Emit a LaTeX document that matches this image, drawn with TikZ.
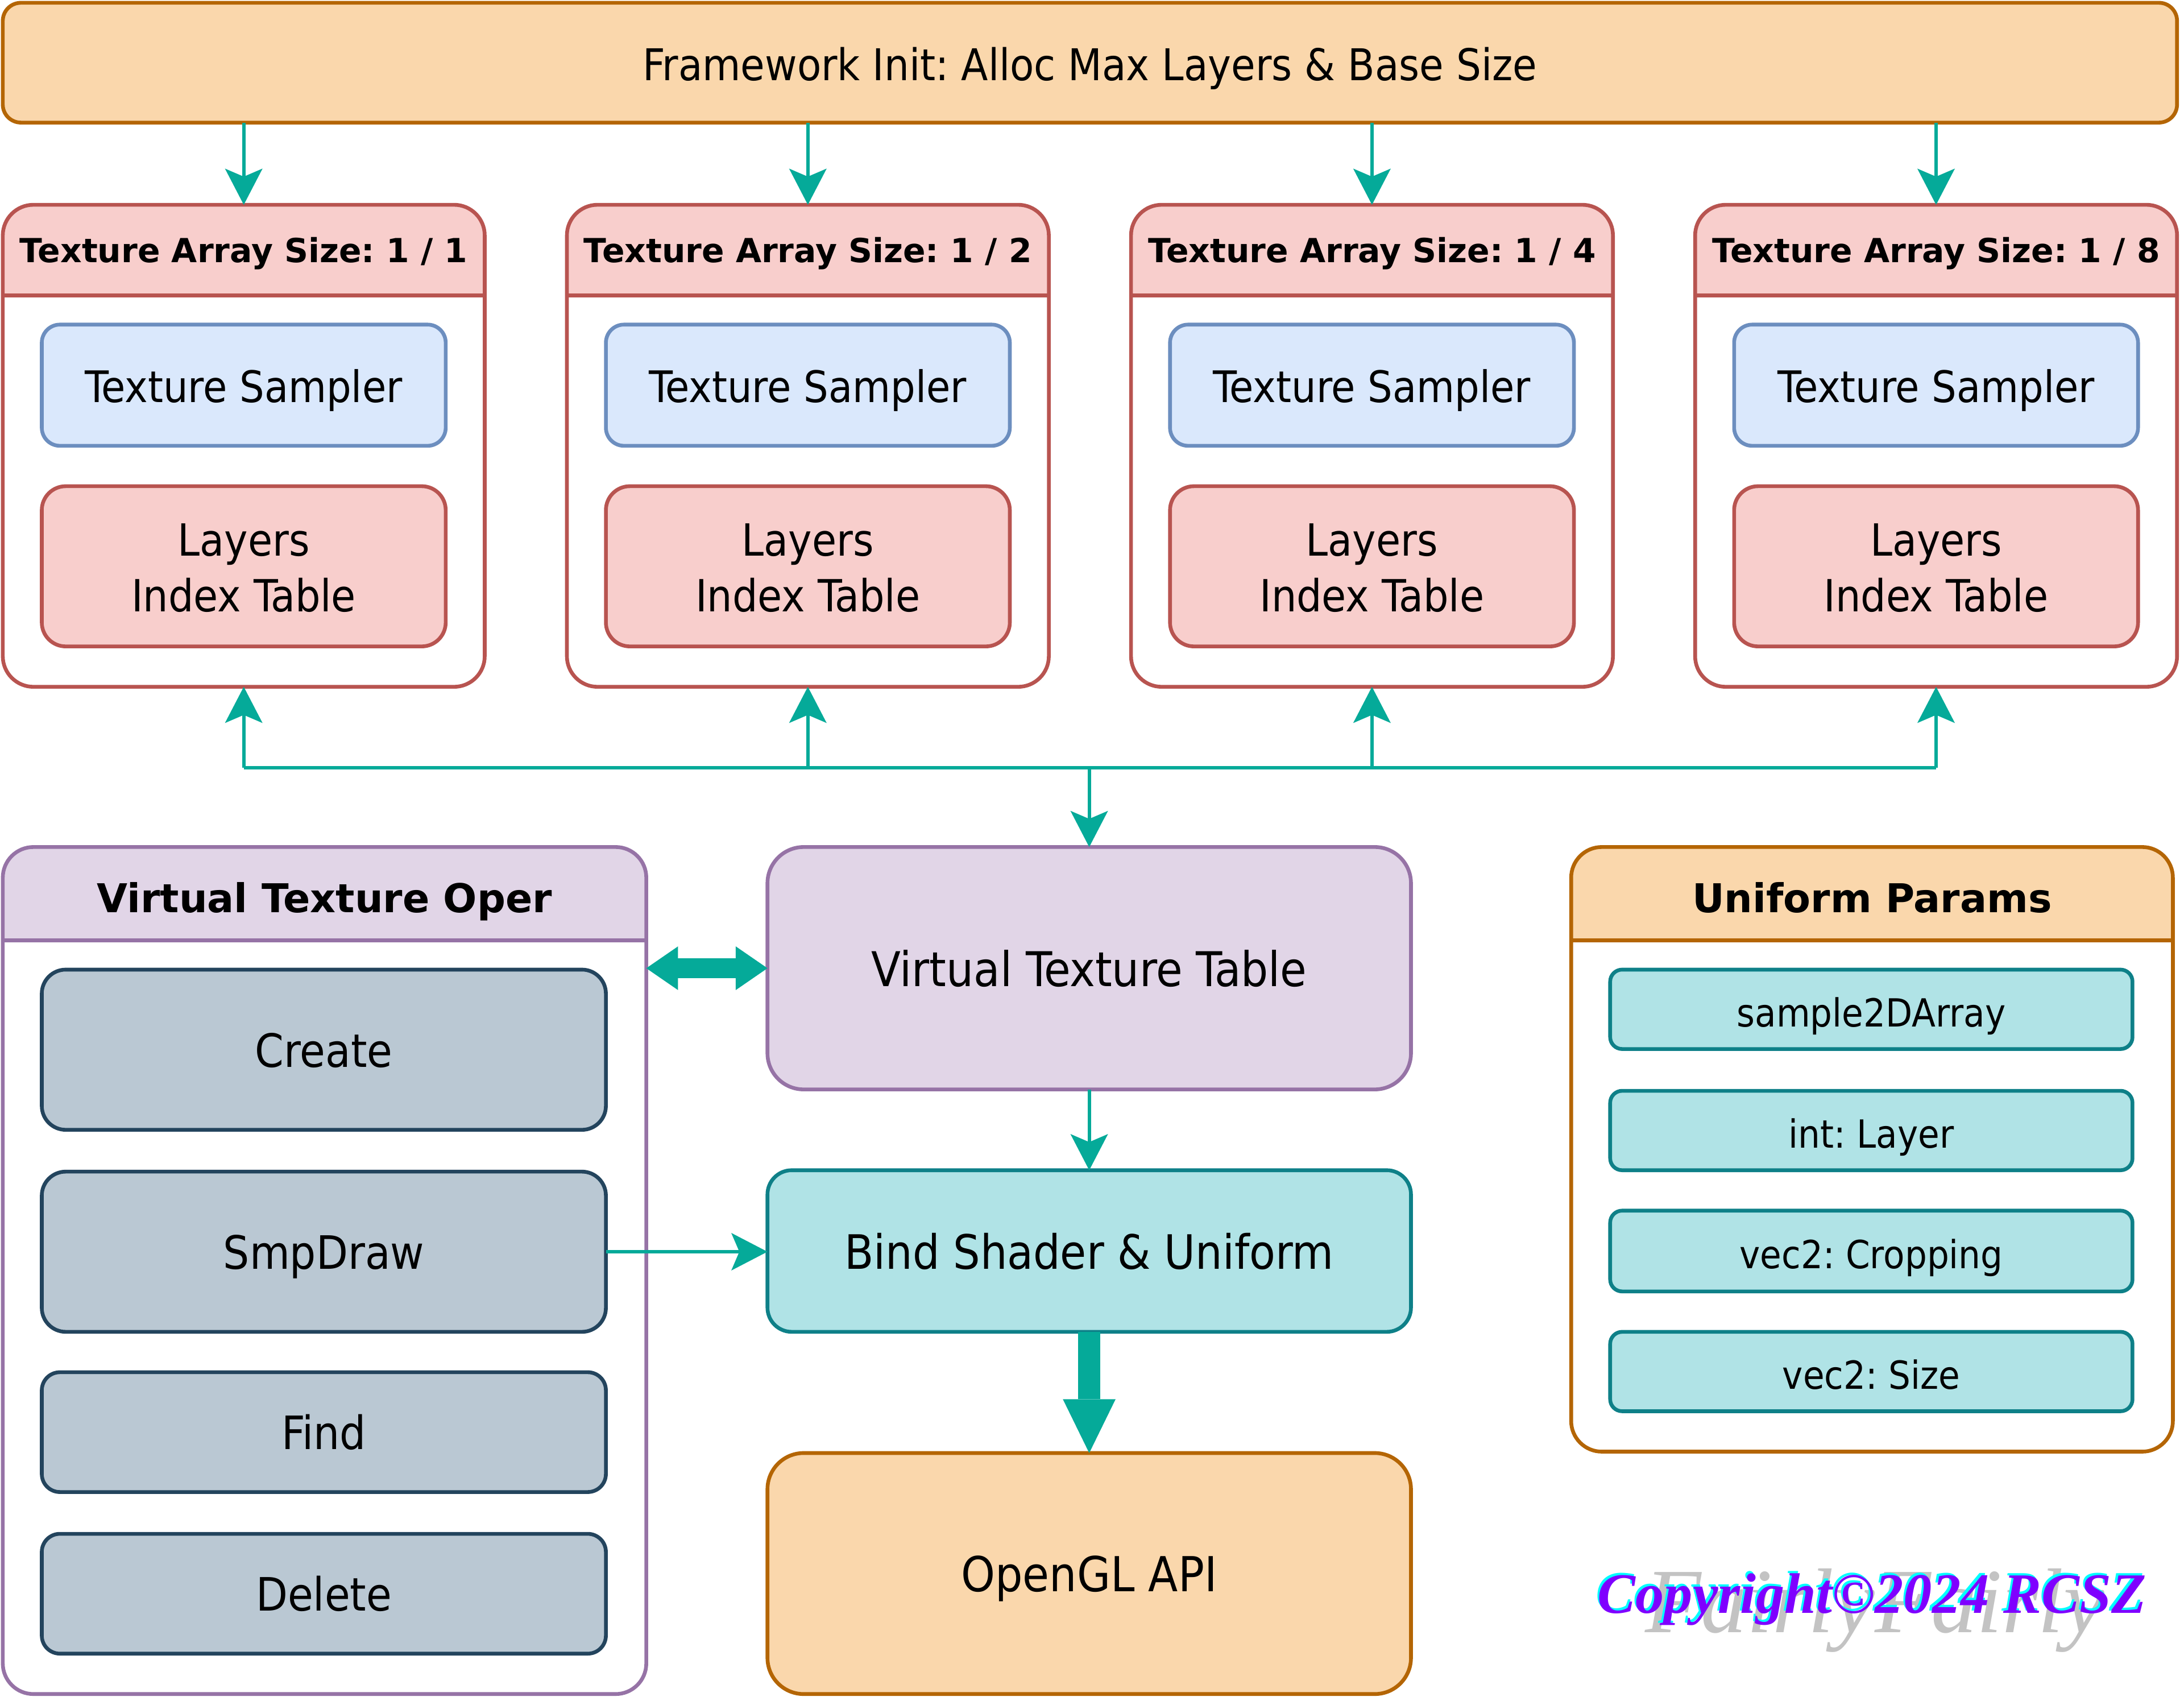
\documentclass[tikz,border=0pt]{standalone}
\usepackage{fontspec}
\setmainfont{DejaVu Sans Condensed}
\newfontfamily\hdfont{DejaVu Sans}
\newfontfamily\crfont{Liberation Serif}
\usetikzlibrary{arrows.meta}
\definecolor{oF}{HTML}{FAD7AC}\definecolor{oS}{HTML}{B46504}
\definecolor{rF}{HTML}{F8CECC}\definecolor{rS}{HTML}{B85450}
\definecolor{bF}{HTML}{DAE8FC}\definecolor{bS}{HTML}{6C8EBF}
\definecolor{pF}{HTML}{E1D5E7}\definecolor{pS}{HTML}{9673A6}
\definecolor{gF}{HTML}{BAC8D3}\definecolor{gS}{HTML}{23445D}
\definecolor{tF}{HTML}{B0E3E6}\definecolor{tS}{HTML}{0E8088}
\definecolor{arr}{HTML}{05AA99}
\definecolor{crP}{HTML}{7F00FF}\definecolor{crC}{HTML}{00FFFF}
\definecolor{wm}{HTML}{C3C3C3}
\newcommand\fs[2]{\fontsize{#1}{#2}\selectfont}
\newcommand\bx[7]{%
  \node[#6, minimum width={(#4-#2)*0.5pt}, minimum height={(#5-#3)*0.5pt}] (#1) at ({(#2+#4)/2},{(#3+#5)/2}) {#7};}
\newcommand\swim[8]{%
  \node[minimum width={(#4-#2)*0.5pt}, minimum height={(#5-#3)*0.5pt}, fill=white, rounded corners=11pt] (#1) at ({(#2+#4)/2},{(#3+#5)/2}) {};
  \begin{scope}
    \clip[rounded corners=11pt] (#2,#3) rectangle (#4,#5);
    \fill[#7] (#2,#3) rectangle (#4,#6);
  \end{scope}
  \draw[#8, line width=1.35pt, rounded corners=11pt] (#2,#3) rectangle (#4,#5);
  \draw[#8, line width=1.35pt] (#2,#6) -- (#4,#6);}
\begin{document}
\frenchspacing
\begin{tikzpicture}[x=0.5pt,y=-0.5pt,
  every node/.style={inner sep=0pt, outer sep=0pt, align=center},
  rbox/.style={draw, line width=1.35pt},
  orangeb/.style={rbox, fill=oF, draw=oS},
  redb/.style={rbox, fill=rF, draw=rS},
  blueb/.style={rbox, fill=bF, draw=bS},
  purpleb/.style={rbox, fill=pF, draw=pS},
  greyb/.style={rbox, fill=gF, draw=gS},
  tealb/.style={rbox, fill=tF, draw=tS},
  hdr/.style={font=\hdfont\bfseries\fs{11.9}{14}, text height=8.7pt, text depth=0pt},
  title/.style={font=\hdfont\bfseries\fs{14.25}{17}, text height=13.4pt, text depth=0pt},
  conn/.style={draw=arr, line width=1.22pt, -{Stealth[length=13pt,width=13.5pt,inset=2.9pt,line width=0pt]}},
  busline/.style={draw=arr, line width=1.22pt},
  fat/.style={draw=arr, line width=8pt, -{Triangle[length=19.3pt,width=18.9pt,line width=0pt]}},
  dbl/.style={draw=arr, line width=7.3pt, {Triangle[length=11.4pt,width=15.7pt,line width=0pt]}-{Triangle[length=11.4pt,width=15.7pt,line width=0pt]}},
  crtext/.style={font=\crfont\bfseries\itshape\fs{20.5}{24}},
  wmtext/.style={font=\crfont\itshape\fs{33}{38}, text=wm}
]
\useasboundingbox (0,0) rectangle (1568,1220.6);

% top framework box
\bx{fw}{2}{2}{1563}{88}{orangeb, rounded corners=6.5pt, font=\fs{15.7}{19}, text height=12.6pt, text depth=0pt}{Framework Init: Alloc Max Layers \& Base Size}

% texture array containers
\foreach \i/\x/\d in {1/2/1,2/407/2,3/812/4,4/1217/8}{
  \pgfmathsetmacro\xr{\x+346}
  \pgfmathsetmacro\xa{\x+28}
  \pgfmathsetmacro\xb{\x+318}
  \swim{ta\i}{\x}{147}{\xr}{493}{212}{rF}{rS}
  \node[hdr] (ta\i-t) at ({\x+173},179.5) {Texture Array Size: 1 / \d};
  \bx{ts\i}{\xa}{233}{\xb}{320}{blueb, rounded corners=6.5pt, font=\fs{15.6}{19}, text height=12.2pt, text depth=0pt}{Texture Sampler}
  \bx{li\i}{\xa}{349}{\xb}{464}{redb, rounded corners=8.6pt, font=\fs{15.9}{20}}{\rule{0pt}{12.6pt}Layers\\Index Table}
  \draw[conn] (ta\i.north |- fw.south) -- (ta\i.north);
}

% virtual texture oper container
\swim{vto}{2}{608}{464}{1216}{675}{pF}{pS}
\node[title] (vto-t) at (233,641.5) {Virtual Texture Oper};
\bx{create}{30}{696}{435}{811}{greyb, rounded corners=8.6pt, font=\fs{16.5}{20}, text height=12.5pt, text depth=0pt}{Create}
\bx{smp}{30}{841}{435}{956}{greyb, rounded corners=8.6pt, font=\fs{16.5}{20}, text height=12.5pt, text depth=0pt}{SmpDraw}
\bx{find}{30}{985}{435}{1071}{greyb, rounded corners=6.5pt, font=\fs{16.5}{20}, text height=12.5pt, text depth=0pt}{Find}
\bx{del}{30}{1101}{435}{1187}{greyb, rounded corners=6.5pt, font=\fs{16.5}{20}, text height=12.3pt, text depth=0pt}{Delete}

% center column
\bx{vtt}{551}{608}{1013}{782}{purpleb, rounded corners=13pt, font=\fs{17.2}{20}, text height=13.1pt, text depth=0pt}{Virtual Texture Table}
\bx{bind}{551}{840}{1013}{956}{tealb, rounded corners=8.7pt, font=\fs{17}{20}, text height=12.9pt, text depth=0pt}{Bind Shader \& Uniform}
\bx{gl}{551}{1043}{1013}{1216}{orangeb, rounded corners=13pt, font=\fs{17.3}{20}, text height=13.1pt, text depth=0pt}{OpenGL API}

% uniform params container
\swim{up}{1128}{608}{1560}{1042}{675}{oF}{oS}
\node[title] (up-t) at (1344,641.5) {Uniform Params};
\bx{u1}{1156}{696}{1531}{753}{tealb, rounded corners=4.3pt, font=\fs{13.9}{17}, text height=12.4pt, text depth=0pt}{sample2DArray}
\bx{u2}{1156}{783}{1531}{840}{tealb, rounded corners=4.3pt, font=\fs{13.9}{17}, text height=12.4pt, text depth=0pt}{int: Layer}
\bx{u3}{1156}{869}{1531}{927}{tealb, rounded corners=4.3pt, font=\fs{13.9}{17}, text height=12.4pt, text depth=0pt}{vec2: Cropping}
\bx{u4}{1156}{956}{1531}{1013}{tealb, rounded corners=4.3pt, font=\fs{13.9}{17}, text height=12.4pt, text depth=0pt}{vec2: Size}

% bus
\coordinate (busy) at (0,551);
\draw[busline] (ta1.south |- busy) -- (ta4.south |- busy);
\foreach \i in {1,2,3,4}{
  \draw[conn] (ta\i.south |- busy) -- (ta\i.south);
}
\draw[conn] (vtt.north |- busy) -- (vtt.north);

% other connectors
\draw[dbl] (vtt.west -| vto.east) -- (vtt.west);
\draw[conn] (smp.east) -- (smp.east -| bind.west);
\draw[conn] (vtt.south) -- (bind.north);
\draw[fat] (bind.south) -- (gl.north);

% copyright
\node[wmtext] (wm) at (1346,1156) {FairlyFairly};
\node[crtext, text=crC] (crs) at (1342.5,1146.5) {Copyright©2024 RCSZ};
\node[crtext, text=crP] (cr) at (1344,1148) {Copyright©2024 RCSZ};
\end{tikzpicture}
\end{document}
